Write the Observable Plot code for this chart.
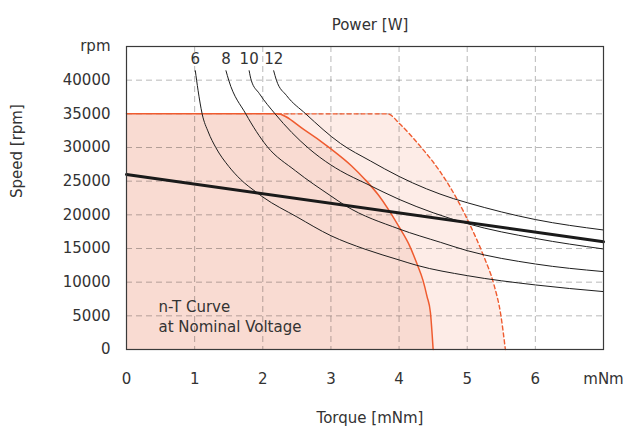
<!DOCTYPE html>
<html>
<head>
<meta charset="utf-8">
<script src="https://cdn.jsdelivr.net/npm/d3@7"></script>
<script src="https://cdn.jsdelivr.net/npm/@observablehq/plot@0.6"></script>
<style>
  body { margin: 0; background: #fff; }
  #chart svg { display: block; }
</style>
</head>
<body>
<div id="chart"></div>
<script>
// ---- tick values and labels ----
const xTicks = [0, 1, 2, 3, 4, 5, 6, 7];
const xTickLabels = ["0", "1", "2", "3", "4", "5", "6", "mNm"];
const yTicks = [0, 5000, 10000, 15000, 20000, 25000, 30000, 35000, 40000, 45000];
const yTickLabels = ["0", "5000", "10000", "15000", "20000", "25000", "30000", "35000", "40000", "rpm"];

// ---- power curves (torque mNm, speed rpm) ----
const powerLabels = ["6", "8", "10", "12"];
const p6  = [[1.01,41400],[1.05,38500],[1.11,35000],[1.2,32300],[1.31,30000],[1.5,27200],[1.67,25300],[1.92,23250],[2.0,22650],[2.5,19700],[3.0,16900],[3.5,14900],[4.0,13300],[4.26,12500],[5,10970],[6,9590],[7,8600]];
const p8  = [[1.46,41400],[1.5,40000],[1.75,35000],[2.06,30200],[2.48,26540],[3.0,22800],[3.21,21380],[4.0,17900],[4.61,15910],[5,14680],[6,12700],[7,11570]];
const p10 = [[1.80,41400],[1.83,40000],[1.95,38000],[2.18,35000],[2.67,29900],[3.0,27400],[3.14,26540],[3.53,24570],[4.0,22300],[5,18700],[6,16500],[7,14930]];
const p12 = [[2.16,41400],[2.2,40000],[2.35,37700],[2.63,35000],[3.14,30600],[3.58,28000],[4.0,25700],[4.8,22400],[5,21800],[6,19300],[7,17750]];

// ---- n-T curve at nominal voltage ----
const ntTorque = [0, 7];
const ntSpeed = [26000, 16000];

// ---- operating ranges ----
const continuous = [[0,35000],[2.21,35000],[2.6,32700],[3.0,29800],[3.3,27300],[3.5,25250],[3.7,22900],[3.85,20700],[4.0,18200],[4.15,15500],[4.26,12800],[4.35,10300],[4.41,7900],[4.46,5500],[4.5,0]];
const intermittent = [[0,35000],[2.21,35000],[3.83,35000],[4.02,33400],[4.31,30200],[4.61,26300],[4.85,22340],[5.03,18740],[5.24,13910],[5.39,9710],[5.49,5310],[5.56,0]];

const noteText = "n-T Curve\nat Nominal Voltage";

// ---- build tables ----
const toRows = (arr) => arr.map(([T, n]) => ({T, n}));
const powerRows = [p6, p8, p10, p12].flatMap((arr, i) => arr.map(([T, n]) => ({P: powerLabels[i], T, n})));
const powerStarts = [p6, p8, p10, p12].map((arr, i) => ({P: powerLabels[i], T: arr[0][0], n: arr[0][1]}));
const ntRows = ntTorque.map((T, i) => ({T, n: ntSpeed[i]}));
const contRows = toRows(continuous);
const interRows = toRows(intermittent);
const interEdge = interRows.filter(d => d.T >= 2.21);

const orange = "#ef5b2f";
const textColor = "#333";

const chart = Plot.plot({
  width: 625,
  height: 430,
  marginLeft: 126,
  marginRight: 22,
  marginTop: 46,
  marginBottom: 81,
  style: {fontFamily: "'DejaVu Sans', sans-serif", fontSize: "15px", color: textColor, background: "#fff"},
  x: {domain: [0, 7]},
  y: {domain: [0, 45000]},
  marks: [
    Plot.areaY(interRows, {x: "T", y: "n", fill: "#fdece7", curve: "monotone-x"}),
    Plot.areaY(contRows, {x: "T", y: "n", fill: "#f9dbd2", curve: "monotone-x"}),
    Plot.ruleX(xTicks.filter(d => d > 0 && d < 7), {stroke: "#000", strokeOpacity: 0.28, strokeDasharray: "6,4"}),
    Plot.ruleY(yTicks.filter(d => d > 0 && d < 45000), {stroke: "#000", strokeOpacity: 0.28, strokeDasharray: "6,4"}),
    Plot.line(interEdge, {x: "T", y: "n", stroke: orange, strokeWidth: 1.4, strokeDasharray: "4,3", curve: "monotone-x"}),
    Plot.line(contRows, {x: "T", y: "n", stroke: orange, strokeWidth: 1.5, curve: "monotone-x"}),
    Plot.line(powerRows, {x: "T", y: "n", z: "P", stroke: "#1e1e1e", strokeWidth: 1, curve: "monotone-x"}),
    Plot.line(ntRows, {x: "T", y: "n", stroke: "#1a1a1a", strokeWidth: 3}),
    Plot.text(powerStarts, {x: "T", y: "n", text: "P", lineAnchor: "bottom", dy: -7, fill: textColor, fontSize: 15}),
    Plot.frame({stroke: "#3a3a3a", strokeWidth: 1.2}),
    Plot.axisX(xTicks, {tickSize: 0, tickPadding: 24, tickFormat: (d) => xTickLabels[xTicks.indexOf(d)], label: null, fill: textColor, fontSize: 15, style: {letterSpacing: "1px"}}),
    Plot.axisY(yTicks, {tickSize: 0, tickPadding: 16, tickFormat: (d) => yTickLabels[yTicks.indexOf(d)], label: null, fill: textColor, fontSize: 15, style: {letterSpacing: "1px"}}),
    Plot.text([noteText], {frameAnchor: "bottom-left", text: d => d, dx: 32, dy: -34, textAnchor: "start", lineAnchor: "middle", lineHeight: 1.33, fill: textColor, fontSize: 15, style: {letterSpacing: "0.5px"}}),
    Plot.text(["Power [W]"], {frameAnchor: "top", text: d => d, dx: 5, dy: -27, fill: textColor, fontSize: 15}),
    Plot.text(["Torque [mNm]"], {frameAnchor: "bottom", text: d => d, dx: 5, dy: 73, fill: textColor, fontSize: 15}),
    Plot.text(["Speed [rpm]"], {frameAnchor: "left", text: d => d, dx: -109, rotate: -90, fill: textColor, fontSize: 15})
  ]
});
document.getElementById("chart").appendChild(chart);
</script>
</body>
</html>
